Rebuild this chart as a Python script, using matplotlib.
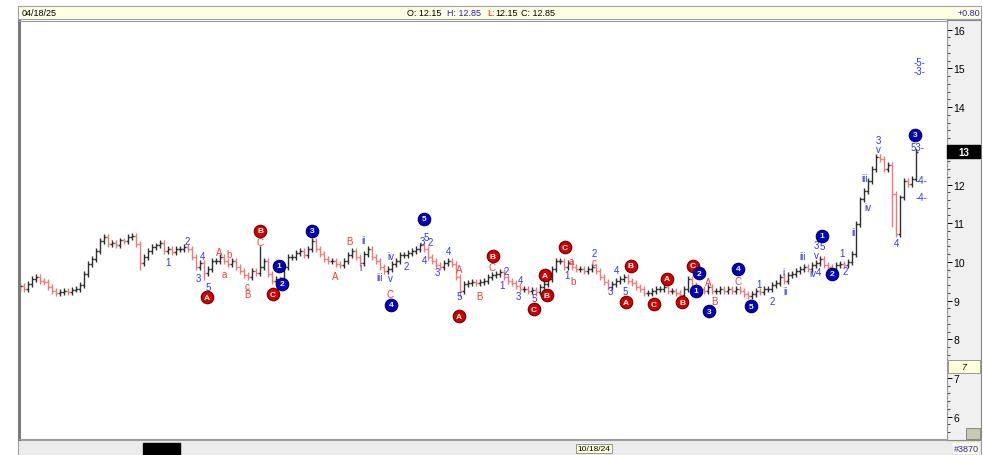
import matplotlib
matplotlib.use("Agg")
import matplotlib.pyplot as plt
import matplotlib.transforms as mtransforms
from matplotlib.patches import Rectangle
import numpy as np

plt.rcParams['font.family'] = ['Liberation Sans Narrow', 'Liberation Sans', 'DejaVu Sans']

W, H = 983, 456

# ---- daily closes (open = previous close) ----
closes = [
    9.38, 9.30, 9.43, 9.56, 9.61, 9.51, 9.48, 9.35, 9.25, 9.20,
    9.22, 9.25, 9.22, 9.28, 9.30, 9.40, 9.69, 9.95, 10.07, 10.28,
    10.54, 10.64, 10.46, 10.49, 10.43, 10.56, 10.54, 10.64, 10.67, 10.46,
    9.97, 10.13, 10.28, 10.38, 10.43, 10.49, 10.28, 10.33, 10.25, 10.33,
    10.33, 10.38, 10.33, 10.13, 9.87, 9.97, 9.71, 9.82, 10.02, 10.02,
    10.13, 10.02, 9.95, 10.02, 9.87, 9.76, 9.66, 9.61, 9.76, 9.71,
    9.87, 10.02, 9.69, 9.51, 9.56, 9.45, 9.87, 10.13, 10.13, 10.23,
    10.28, 10.18, 10.33, 10.54, 10.33, 10.20, 10.07, 10.02, 10.02, 9.95,
    9.92, 10.02, 10.18, 10.28, 10.13, 9.97, 10.20, 10.33, 10.13, 10.02,
    9.87, 9.76, 9.82, 9.95, 10.02, 10.18, 10.18, 10.23, 10.28, 10.33,
    10.43, 10.33, 10.13, 10.02, 9.92, 9.87, 9.97, 10.02, 9.95, 9.61,
    9.25, 9.43, 9.45, 9.48, 9.45, 9.48, 9.51, 9.61, 9.66, 9.69,
    9.74, 9.61, 9.51, 9.45, 9.38, 9.30, 9.30, 9.25, 9.28, 9.22,
    9.35, 9.43, 9.56, 9.82, 10.02, 10.02, 9.87, 9.97, 9.87, 9.82,
    9.82, 9.76, 9.82, 9.87, 9.76, 9.61, 9.48, 9.35, 9.43, 9.51,
    9.56, 9.61, 9.51, 9.45, 9.35, 9.30, 9.20, 9.20, 9.25, 9.30,
    9.30, 9.35, 9.25, 9.25, 9.20, 9.14, 9.30, 9.56, 9.40, 9.30,
    9.30, 9.25, 9.35, 9.25, 9.25, 9.30, 9.25, 9.30, 9.25, 9.30,
    9.25, 9.17, 9.12, 9.17, 9.25, 9.22, 9.30, 9.30, 9.40, 9.45,
    9.61, 9.51, 9.66, 9.69, 9.76, 9.82, 9.87, 9.82, 9.92, 9.97,
    10.07, 9.92, 9.87, 9.82, 9.92, 9.95, 9.92, 10.00, 10.20, 10.98,
    11.62, 11.83, 12.09, 12.40, 12.71, 12.66, 12.40, 12.50, 11.75, 10.72,
    11.67, 12.09, 12.01, 12.15, 12.85,
]
first_open = 9.33

# long wicks
wick_hi_idx = [60, 214]
wick_hi_val = [10.42, 12.80]
wick_lo_idx = [30, 46, 110, 129, 218, 219]
wick_lo_val = [9.80, 9.53, 9.10, 9.12, 10.90, 10.64]

# ---- wave labels: text, bar position, price, colour ('r' / 'b') ----
lbl_text = ["1", "2", "4", "3", "5", "A", "a", "b", "c", "B", "C",
            "A", "B", "ii", "i", "iii", "v", "iv", "2", "3", "5", "2", "4",
            "3", "4", "A", "5", "C", "B", "C", "2", "1", "4", "3", "5",
            "a", "1", "b", "2", "c", "3", "4", "5", "A", "B", "C", "1", "2",
            "i", "ii", "iii", "iv", "4", "3", "5", "v", "1", "2", "ii", "iii",
            "iv", "3", "v", "4", "53-", "-4-", "-4-", "-5-", "-3-"]
lbl_bar = [37.0, 41.75, 45.5, 44.5, 47.0, 49.75, 51.0, 52.25, 56.75, 56.75, 60.0,
           78.75, 82.25, 86.0, 85.0, 90.0, 92.5, 92.75, 96.5, 100.5, 101.5, 102.5, 101.25,
           104.25, 107.0, 109.75, 109.75, 92.5, 114.75, 118.0, 121.5, 120.5, 125.25, 124.5, 128.5,
           137.75, 136.75, 138.25, 143.5, 143.5, 147.5, 149.25, 151.25, 172.0, 173.5, 179.5, 184.75, 188.0,
           190.75, 191.25, 195.75, 198.25, 199.75, 199.0, 200.5, 199.0, 205.5, 206.25, 208.5, 211.25,
           212.0, 214.5, 214.5, 219.25, 224.5, 225.25, 225.25, 225.0, 225.0]
lbl_price = [10.00, 10.54, 10.15, 9.58, 9.35, 10.26, 9.69, 10.20, 9.38, 9.17, 10.51,
             9.64, 10.54, 10.57, 9.87, 9.61, 9.58, 10.15, 9.90, 10.54, 10.64, 10.51, 10.05,
             9.74, 10.28, 9.82, 9.12, 9.17, 9.12, 9.87, 9.76, 9.40, 9.53, 9.12, 9.07,
             10.02, 9.66, 9.51, 10.23, 10.00, 9.25, 9.79, 9.25, 9.48, 8.99, 9.51, 9.43, 8.99,
             9.74, 9.25, 10.15, 9.71, 9.74, 10.44, 10.41, 10.18, 10.23, 9.76, 10.77, 12.17,
             11.42, 13.15, 12.92, 10.49, 12.97, 12.12, 11.68, 15.17, 14.93]
lbl_col = ["b", "b", "b", "b", "b", "r", "r", "r", "r", "r", "r",
           "r", "r", "b", "b", "b", "b", "b", "b", "b", "b", "b", "b",
           "b", "b", "r", "b", "r", "r", "r", "b", "b", "b", "b", "b",
           "r", "b", "r", "b", "r", "b", "b", "b", "r", "r", "r", "b", "b",
           "b", "b", "b", "b", "b", "b", "b", "b", "b", "b", "b", "b",
           "b", "b", "b", "b", "b", "b", "b", "b", "b"]

# ---- circled wave labels ----
circ_text = ["A", "B", "1", "2", "C", "3", "5", "4", "A", "B", "C", "A", "B", "C",
             "B", "A", "A", "C", "B", "C", "2", "1", "3", "4", "5", "1", "2", "3"]
circ_bar = [46.75, 60.0, 64.75, 65.5, 63.25, 73.0, 101.0, 92.75, 109.75, 118.25, 128.5,
            131.25, 131.75, 136.25, 152.75, 151.5, 161.75, 158.5, 165.5, 168.25, 169.75,
            169.0, 172.25, 179.5, 182.75, 200.5, 203.0, 223.75]
circ_price = [9.09, 10.80, 9.90, 9.43, 9.17, 10.80, 11.11, 8.89, 8.60, 10.15, 8.78,
              9.66, 9.14, 10.38, 9.90, 8.96, 9.56, 8.91, 8.96, 9.90, 9.71,
              9.25, 8.73, 9.82, 8.86, 10.67, 9.69, 13.28]
circ_col = ["r", "r", "b", "b", "r", "b", "b", "b", "r", "r", "r", "r", "r", "r",
            "r", "r", "r", "r", "r", "r", "b", "b", "b", "b", "b", "b", "b", "b"]

price_ticks = [6, 7, 8, 9, 10, 11, 12, 13, 14, 15, 16]

TXT_COL = {"r": "#f03c3c", "b": "#3434ee"}
CIRC_FC = {"r": "#d40000", "b": "#0000c4"}
CIRC_EC = {"r": "#6a0000", "b": "#000050"}
UP_COL, DOWN_COL = "#2e2e2e", "#f07a7a"
TICK_PAD = 0.07


def fx(px):
    return px / W


def fy(py):
    return 1 - py / H


# ---- OHLC ----
closes_a = np.array(closes)
opens_a = np.concatenate([[first_open], closes_a[:-1]])
highs_a = np.maximum(opens_a, closes_a) + TICK_PAD
lows_a = np.minimum(opens_a, closes_a) - TICK_PAD
highs_a[wick_hi_idx] = wick_hi_val
lows_a[wick_lo_idx] = wick_lo_val
idx = np.arange(len(closes_a))
cols = [DOWN_COL if c < o else UP_COL for o, c in zip(opens_a, closes_a)]

fig = plt.figure(figsize=(W / 100, H / 100), dpi=100)

# frame pieces (header, footer, price-scale panel)
fig.patches.append(Rectangle((fx(18), fy(20)), fx(963), 13 / H, transform=fig.transFigure,
                             fc="#ffffe4", ec="#a0a0a0", lw=0.8, zorder=-1))
fig.patches.append(Rectangle((fx(18), fy(456)), fx(963), 15 / H, transform=fig.transFigure,
                             fc="#ececec", ec="#a0a0a0", lw=0.8, zorder=-1))
fig.patches.append(Rectangle((fx(947), fy(441)), fx(34), 420 / H, transform=fig.transFigure,
                             fc="#f0f0f0", ec="#8a8a8a", lw=0.8, zorder=-1))
fig.patches.append(Rectangle((fx(143), fy(455)), fx(37), 11 / H, transform=fig.transFigure,
                             fc="black", ec="black", zorder=2))
fig.patches.append(Rectangle((fx(966), fy(440)), fx(14), 11 / H, transform=fig.transFigure,
                             fc="#c9c9b4", ec="#777777", lw=0.6, zorder=2))
fig.patches.append(Rectangle((fx(948), fy(374)), fx(32), 13 / H, transform=fig.transFigure,
                             fc="#ffffdc", ec="#8a8a8a", lw=0.6, zorder=2))
fig.text(fx(964), fy(367.5), "7", fontsize=6.5, ha="center", va="center", style="italic")

ax = fig.add_axes([fx(19), fy(440), fx(928), 418 / H])
ax.set_xlim(-0.25, 231.75)
ax.set_ylim(5.424, 16.225)

ax.vlines(idx, lows_a, highs_a, colors=cols, lw=1.0)
ax.hlines(opens_a, idx - 0.5, idx, colors=cols, lw=1.0)
ax.hlines(closes_a, idx, idx + 0.5, colors=cols, lw=1.0)

for t, b, p, c in zip(lbl_text, lbl_bar, lbl_price, lbl_col):
    ax.text(b, p, t, color=TXT_COL[c], fontsize=7, ha="center", va="center")

for t, b, p, c in zip(circ_text, circ_bar, circ_price, circ_col):
    ax.plot(b, p, "o", ms=9, mfc=CIRC_FC[c], mec=CIRC_EC[c], mew=0.8, zorder=4)
    ax.text(b, p, t, color="white", fontsize=6, fontweight="bold",
            ha="center", va="center", zorder=5)

ax.set_xticks([])
ax.set_yticks(price_ticks)
# the 13 label sits under the last-price box
ax.set_yticklabels(["" if v == round(closes_a[-1]) else str(v) for v in price_ticks])
ax.set_yticks(np.arange(5.6, 16.2, 0.2), minor=True)
ax.yaxis.tick_right()
ax.tick_params(axis="y", which="major", direction="out", length=3.5, width=0.7,
               pad=1, labelsize=7.5)
ax.tick_params(axis="y", which="minor", direction="out", length=2, width=0.5)
for s in ["top", "bottom", "right"]:
    ax.spines[s].set_color("#9a9a9a")
    ax.spines[s].set_linewidth(0.8)
ax.spines["left"].set_color("#7a7a7a")
ax.spines["left"].set_linewidth(2.2)

# last price marker on the scale
trans = mtransforms.blended_transform_factory(ax.transAxes, ax.transData)
ax.add_patch(Rectangle((1.0, closes_a[-1] - 0.17), 33 / 928, 0.34, transform=trans,
                       fc="black", ec="black", clip_on=False, zorder=6))
ax.text(1.0 + 16.5 / 928, closes_a[-1], f"{closes_a[-1]:.0f}", transform=trans,
        color="white", fontsize=7, fontweight="bold", ha="center", va="center",
        clip_on=False, zorder=7)

# header line
hy = fy(13.5)
fig.text(fx(22), hy, "04/18/25", fontsize=6.5, va="center")
fig.text(fx(407), hy, f"O: {opens_a[-1]:.2f}", fontsize=6.5, va="center")
fig.text(fx(447), hy, f"H: {closes_a[-1]:.2f}", fontsize=6.5, va="center", color="#2020d0")
fig.text(fx(487), hy, "L:", fontsize=6.5, va="center", color="#e02020")
fig.text(fx(495), hy, f"{opens_a[-1]:.2f}", fontsize=6.5, va="center")
fig.text(fx(521), hy, f"C: {closes_a[-1]:.2f}", fontsize=6.5, va="center")
fig.text(fx(980), hy, "+0.80", fontsize=6.5, va="center", ha="right", color="#2020d0")

# footer
fig.text(fx(594), fy(449.5), "10/18/24", fontsize=6, ha="center", va="center",
         bbox=dict(boxstyle="square,pad=0.15", fc="#ffffd8", ec="#888888", lw=0.6))
fig.text(fx(966), fy(449.5), "#3870", fontsize=6.5, ha="center", va="center", color="#2020d0",
         bbox=dict(boxstyle="square,pad=0.1", fc="#ffffe0", ec="none"))

fig.savefig("out.png", dpi=100)
